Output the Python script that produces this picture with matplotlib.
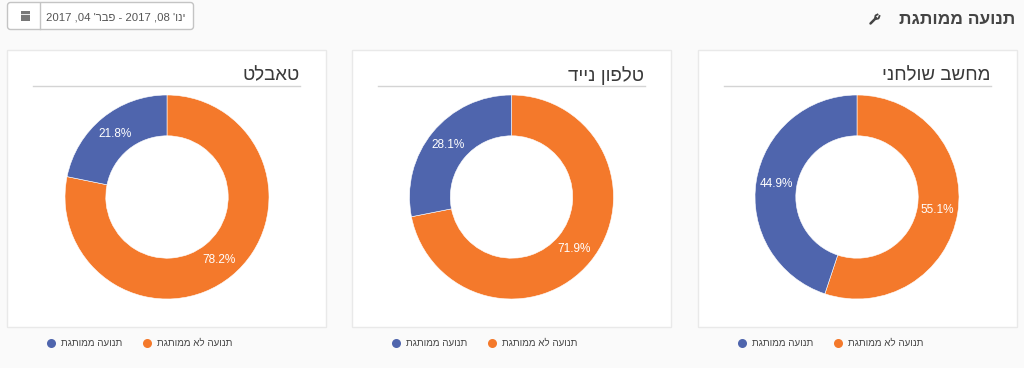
import matplotlib
matplotlib.use('Agg')
import matplotlib.pyplot as plt
from matplotlib.patches import Rectangle, FancyBboxPatch

plt.rcParams['font.family'] = ['Liberation Sans', 'DejaVu Sans']

W, H = 1024, 368

page_title = "תנועה ממותגת"
date_range = "2017 ,04 'רבפ - 2017 ,08 'וני"
devices = ["טאבלט", "טלפון נייד", "מחשב שולחני"]
branded = [21.8, 28.1, 44.9]
unbranded = [78.2, 71.9, 55.1]
legend_names = ["תנועה לא ממותגת", "תנועה ממותגת"]

ORANGE = '#f4792b'
BLUE = '#4f65ad'
GREY_TEXT = '#444444'


def vis(s):
    # matplotlib has no bidi, so hebrew goes in visual order
    return s[::-1]


fig = plt.figure(figsize=(W / 100, H / 100), dpi=100, facecolor='#fafafa')

# page layer, in pixel coords
bg = fig.add_axes([0, 0, 1, 1])
bg.set_xlim(0, W)
bg.set_ylim(H, 0)
bg.axis('off')

bg.text(1015, 19, vis(page_title), ha='right', va='center', fontsize=12.5,
        fontweight='bold', color='#444444')

# wrench icon
bg.plot([870.5, 876], [23.5, 18], color='#444444', lw=1.8, solid_capstyle='round')
bg.plot([875, 875.5, 877.5], [18.5, 15.5, 14.5], color='#444444', lw=1.3)
bg.plot([876, 878.5, 879.5], [19, 18.5, 16], color='#444444', lw=1.3)

# date picker
bg.add_patch(FancyBboxPatch((7.5, 2.5), 186, 27, boxstyle='round,pad=0,rounding_size=3',
                            fc='white', ec='#c4c4c4', lw=1))
bg.plot([39.5, 39.5], [3, 29], color='#c4c4c4', lw=1)
bg.add_patch(Rectangle((21, 11), 9, 10, fc='#777777', ec='none'))
bg.plot([21, 30], [13.5, 13.5], color='white', lw=0.6)
bg.text(116, 17, date_range, ha='center', va='center', fontsize=8.2, color='#555555')

panel_left = [6.5, 351.5, 697.5]
donut_cx = [167, 511.5, 857]
donut_cy = 197
radius = 102

for i, name in enumerate(devices):
    x0 = panel_left[i]
    bg.add_patch(Rectangle((x0, 49.5), 319, 277.5, fc='white', ec='#e9e9e9', lw=1))

    # title and rule
    bg.plot([x0 + 26, x0 + 293], [85.5, 85.5], color='#d4d4d4', lw=1)
    bg.text(x0 + 293, 76, vis(name), ha='right', va='center', fontsize=13.5,
            color='#3a3a3a')

    # donut
    cx = donut_cx[i]
    ax = fig.add_axes([(cx - radius) / W, 1 - (donut_cy + radius) / H,
                       2 * radius / W, 2 * radius / H])
    wedges, _, autotexts = ax.pie(
        [unbranded[i], branded[i]],
        colors=[ORANGE, BLUE],
        startangle=90,
        counterclock=False,
        radius=1,
        autopct='%.1f%%',
        pctdistance=0.8,
        wedgeprops=dict(width=0.4, edgecolor='white', linewidth=0.4),
        textprops=dict(color='white', fontsize=8.5),
    )
    ax.set_xlim(-1, 1)
    ax.set_ylim(-1, 1)

    # legend row
    off = x0 - panel_left[0]
    bg.plot([off + 146.5], [343], 'o', color=ORANGE, ms=6.5, mew=0)
    bg.text(off + 232, 343, vis(legend_names[0]), ha='right', va='center',
            fontsize=7, color=GREY_TEXT)
    bg.plot([off + 50.5], [343], 'o', color=BLUE, ms=6.5, mew=0)
    bg.text(off + 122, 343, vis(legend_names[1]), ha='right', va='center',
            fontsize=7, color=GREY_TEXT)

fig.savefig('out.png', dpi=100, facecolor=fig.get_facecolor())
plt.close(fig)
